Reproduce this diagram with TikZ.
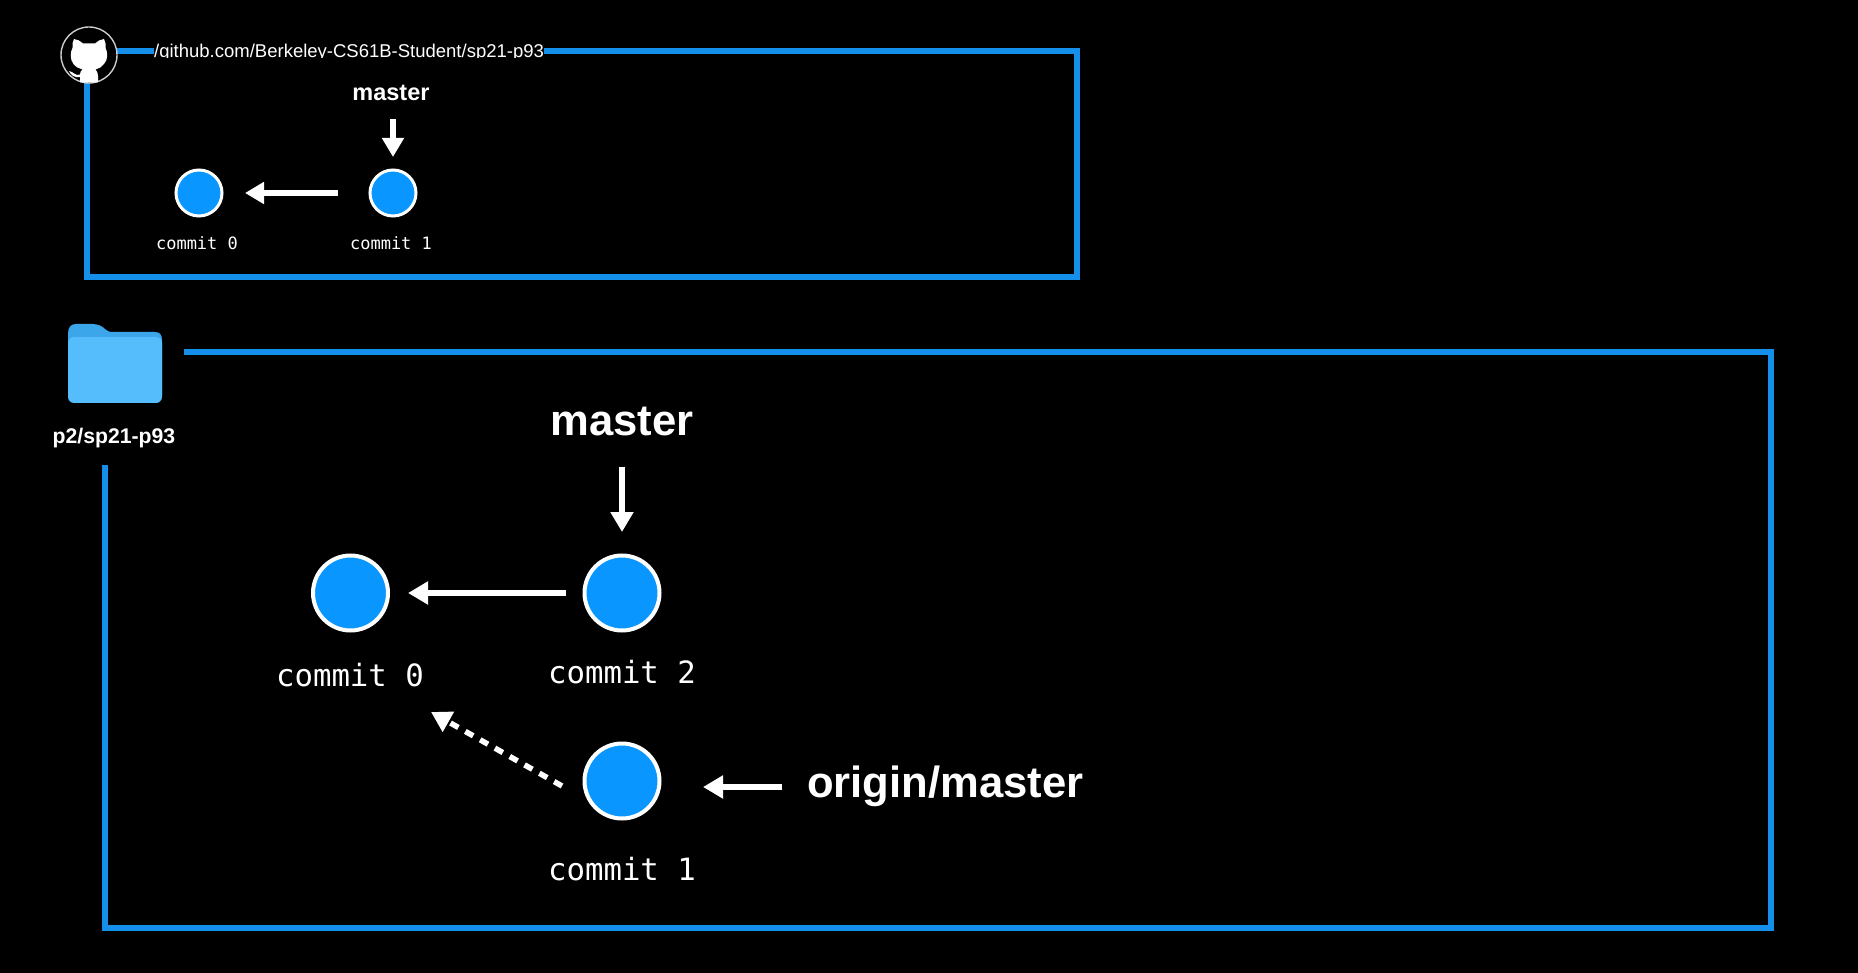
\documentclass[tikz,border=0pt]{standalone}
\usepackage{fontspec}
\setmainfont{Liberation Sans}
\newfontfamily\monof{DejaVu Sans Mono}
\usetikzlibrary{arrows.meta}
\definecolor{framecol}{HTML}{1590EA}
\definecolor{dotcol}{HTML}{0A96FF}
\definecolor{foldfront}{HTML}{55BDFB}
\definecolor{foldback}{HTML}{3BA6EA}
\tikzset{
  frameline/.style={draw=framecol,line width=6pt,line cap=butt,line join=miter},
  dotbig/.style={circle,draw=white,fill=dotcol,line width=4pt,minimum size=75pt,inner sep=0pt,outer sep=0pt},
  dotsmall/.style={circle,draw=white,fill=dotcol,line width=3pt,minimum size=46pt,inner sep=0pt,outer sep=0pt},
  labbig/.style={text=white,font=\fontsize{30.7}{31}\selectfont\monof,inner sep=0pt},
  labsmall/.style={text=white,font=\fontsize{17}{17}\selectfont\monof,inner sep=0pt},
  refbig/.style={text=white,font=\fontsize{43.6}{44}\selectfont\bfseries,inner sep=0pt},
  refsmall/.style={text=white,font=\fontsize{23.5}{24}\selectfont\bfseries,inner sep=0pt},
  arrbig/.style={draw=white,line width=6pt,-{Triangle[length=20pt,width=22pt]}},
  arrsmall/.style={draw=white,line width=5.5pt,-{Triangle[length=19pt,width=21pt]}},
  arrdash/.style={draw=white,line width=5.5pt,dash pattern=on 9pt off 8pt,-{Triangle[length=20pt,width=22pt]}},
}
\begin{document}
\begin{tikzpicture}[x=1pt,y=-1pt]
\path[fill=black] (0,0) rectangle (1858,973);
\useasboundingbox (0,0) rectangle (1858,973);

% top frame
\coordinate (ta) at (117,51);
\coordinate (tb) at (1077,51);
\coordinate (tc) at (1077,277);
\coordinate (td) at (87,277);
\coordinate (te) at (87,80);
\draw[frameline] (ta) -- (tb) -- (tc) -- (td) -- (te);

% url
\node[text=white,font=\fontsize{18.5}{19}\selectfont,inner sep=0pt,anchor=base west,fill=black,
      text height=15pt,text depth=5pt] (url) at (154,57.5) {/github.com/Berkeley-CS61B-Student/sp21-p93};
\fill[black] (150,58.5) rectangle (546,66);

% github badge
\node[circle,draw=white!80!black,fill=black,line width=1.4pt,minimum size=56pt,inner sep=0pt,outer sep=0pt] (gh) at (89,55) {};
\fill[white]
  (74,39) .. controls (77,39) and (80,41) .. (83,43.5)
  -- (95,43.5)
  .. controls (98,41) and (101,39) .. (104,39)
  .. controls (105.5,42) and (106,45) .. (105.5,48)
  .. controls (108,52) and (108,60) .. (104,64)
  .. controls (102,67) and (99,68.5) .. (95.5,69.5)
  .. controls (97,71) and (98,73) .. (98,76)
  -- (98,82.5) -- (80,82.5) -- (80,77)
  .. controls (74,78) and (71,75) .. (69,71)
  .. controls (71,72) and (73,72) .. (74,73.5)
  .. controls (76,75.5) and (78,75) .. (80,74.5)
  .. controls (80,72) and (81,70.5) .. (82.5,69.5)
  .. controls (79,68.5) and (75.5,67) .. (73.5,64)
  .. controls (70,60) and (70,52) .. (72.5,48)
  .. controls (72,45) and (72.5,42) .. (74,39) -- cycle;

% top graph
\node[dotsmall] (sc0) at (199,193) {};
\node[dotsmall] (sc1) at (393,193) {};
\node[labsmall] (sl0) at (197,243) {commit 0};
\node[labsmall] (sl1) at (391,243) {commit 1};
\node[refsmall] (sm) at (391,93) {master};
\draw[arrsmall] ([xshift=2pt,yshift=-18pt]sm.south) -- ([yshift=13pt]sc1.north);
\draw[arrsmall] ([xshift=-32pt]sc1.west) -- ([xshift=23pt]sc0.east);

% bottom frame
\coordinate (ba) at (184,352);
\coordinate (bb) at (1771,352);
\coordinate (bc) at (1771,928);
\coordinate (bd) at (105,928);
\coordinate (be) at (105,465);
\draw[frameline] (ba) -- (bb) -- (bc) -- (bd) -- (be);

% folder
\fill[foldback] (68,334) .. controls (68,327) and (71,324) .. (76,324)
  -- (92,324) .. controls (98,324) and (102,326) .. (105,329) .. controls (107,331) and (109,332) .. (113,332)
  -- (155,332) .. controls (160,332) and (162,335) .. (162,340) -- (162,395) -- (68,395) -- cycle;
\node[fill=foldfront,draw=none,rounded corners=6pt,minimum width=94pt,minimum height=66pt,inner sep=0pt,outer sep=0pt] (folder) at (115,370) {};
\node[text=white,font=\fontsize{21.2}{21}\selectfont\bfseries,inner sep=0pt] (fl) at (114,438.5) {p2/sp21-p93};

% bottom graph
\node[dotbig] (c0) at (350.5,593) {};
\node[dotbig] (c2) at (622,593) {};
\node[dotbig] (c1) at (622,781) {};
\node[labbig] (l0) at (350,675) {commit 0};
\node[labbig] (l2) at (622,672) {commit 2};
\node[labbig] (l1) at (622,869) {commit 1};
\node[refbig] (m) at (622,421) {master};
\node[refbig,anchor=base west] (om) at (807,797) {origin/master};
\draw[arrbig] ([yshift=-31pt]m.south) -- ([yshift=23.5pt]c2.north);
\draw[arrbig] ([xshift=-18.5pt]c2.west) -- ([xshift=20pt]c0.east);
\coordinate (oa) at (782,787);
\draw[arrbig] (oa) -- ([xshift=43.5pt]c1.east |- oa);
\draw[arrdash] ([xshift=-22.5pt,yshift=-5pt]c1.west) -- ([xshift=54pt,yshift=-92.5pt]c0.south east);
\end{tikzpicture}
\end{document}
